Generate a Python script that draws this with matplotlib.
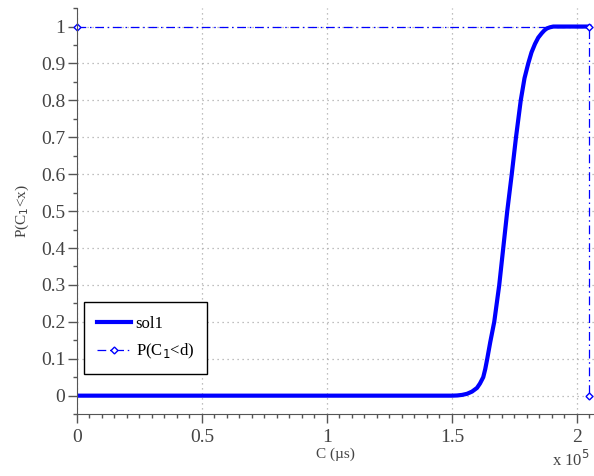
# CDF of C (sol1) vs deadline probability
import numpy as np
import matplotlib
matplotlib.use("Agg")
import matplotlib.pyplot as plt
from matplotlib.ticker import MultipleLocator, FuncFormatter

# curve (x in microseconds)
c_us = [0, 150000, 152000, 154000, 156000, 158000, 160000, 161200, 162500,
        163300, 164100, 165300, 166900, 168900, 170500, 172100, 173900,
        175600, 177500, 179000, 180500, 181800, 183200, 184500, 185900,
        187000, 188000, 189200, 190500, 205000]
p_c = [0, 0, 0.0005, 0.002, 0.005, 0.011, 0.021, 0.033, 0.05,
       0.072, 0.1, 0.145, 0.2, 0.3, 0.4, 0.5, 0.6,
       0.7, 0.8, 0.86, 0.9, 0.93, 0.953, 0.97, 0.982,
       0.99, 0.995, 0.998, 1.0, 1.0]

# deadline marker
d_x = [0, 205000, 205000]
d_y = [1, 1, 0]

plt.rcParams['font.family'] = ['Liberation Serif', 'DejaVu Serif']
grey = '#555555'
txt = '#444444'

fig = plt.figure(figsize=(5.94, 4.76), dpi=100)
ax = fig.add_axes([0.1296, 0.130, 0.8704, 0.853])

ax.plot(c_us, p_c, color='#0000ff', lw=3.0, label='sol1')
ax.plot(d_x, d_y, color='#0000ff', lw=0.9, ls=(0, (7, 3, 1.2, 3)), marker='D',
        ms=3.5, mfc='white', mec='#0000ff', mew=1.0, label='P(C$_1$<d)',
        clip_on=False)

ax.set_xlim(0, 206800)
ax.set_ylim(-0.05, 1.05)
ax.xaxis.set_major_locator(MultipleLocator(50000))
ax.xaxis.set_minor_locator(MultipleLocator(5000))
ax.xaxis.set_major_formatter(FuncFormatter(lambda v, p: '%g' % (v / 1e5)))
ax.yaxis.set_major_locator(MultipleLocator(0.1))
ax.yaxis.set_minor_locator(MultipleLocator(0.05))
ax.yaxis.set_major_formatter(FuncFormatter(lambda v, p: '%g' % round(v, 2)))

for s in ['top', 'right']:
    ax.spines[s].set_visible(False)
for s in ['left', 'bottom']:
    ax.spines[s].set_color(grey)
ax.tick_params(which='major', direction='out', length=6.5, width=1, color=grey,
               labelcolor=txt, labelsize=14, pad=2)
ax.tick_params(axis='x', which='major', pad=4)
ax.tick_params(which='minor', direction='out', length=3, width=1, color=grey)
ax.grid(True, which='major', ls=(0, (1, 3)), color='#aaaaaa', lw=0.9)

ax.set_xlabel('C (\u00b5s)', fontsize=11, color=txt, labelpad=1)
ax.set_ylabel('P(C$_1$<x)', fontsize=11, color=txt, labelpad=7)
fig.text(0.993, 0.022, 'x 10$^5$', fontsize=12, color=txt, ha='right')

leg = ax.legend(loc='lower left', bbox_to_anchor=(0.0135, 0.098), fontsize=12,
                fancybox=False, framealpha=1, edgecolor='black',
                borderaxespad=0, handlelength=2.0, handletextpad=0.3,
                borderpad=0.8, labelspacing=0.6)
leg.get_frame().set_linewidth(1.0)

fig.savefig('out.png', dpi=100)
